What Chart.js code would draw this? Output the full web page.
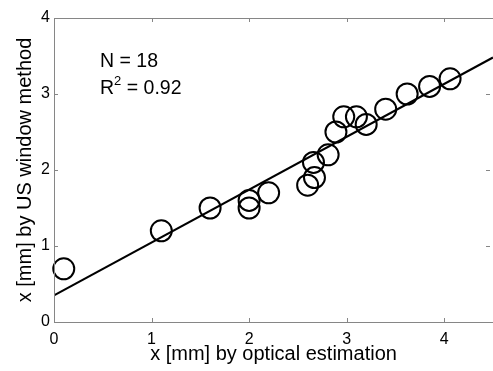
<!DOCTYPE html>
<html>
<head>
<meta charset="utf-8">
<script src="https://cdn.jsdelivr.net/npm/chart.js@4/dist/chart.umd.min.js"></script>
<style>
    html, body { margin: 0; padding: 0; background: #fff; overflow: hidden; }
</style>
</head>
<body>
<canvas id="fig" width="493" height="371"></canvas>
<script>
// measured values (optical vs US window method)
var opticalX = [0.1, 1.1, 1.6, 2.0, 2.0, 2.2, 2.6, 2.67, 2.66, 2.81, 2.89, 2.97, 3.1, 3.2, 3.4, 3.62, 3.85, 4.06];
var usWindowY = [0.7, 1.2, 1.5, 1.6, 1.5, 1.7, 1.8, 1.9, 2.1, 2.2, 2.5, 2.7, 2.7, 2.6, 2.8, 3.0, 3.1, 3.2];

// regression line end points
var fitX = [0, 4.5];
var fitY = [0.35, 3.48];

var xTicks = [0, 1, 2, 3, 4];
var yTicks = [0, 1, 2, 3, 4];

var statsLines = ["N = 18", "0.92"];

var axisGray = "#868686";
var font = "'Liberation Sans', Arial, Helvetica, sans-serif";

var framePlugin = {
    id: "frame",
    afterDraw: function (chart) {
        var c = chart.ctx;
        var a = chart.chartArea;
        var sx = chart.scales.x, sy = chart.scales.y;
        c.save();
        c.strokeStyle = axisGray;
        c.lineWidth = 1;
        c.strokeRect(a.left + 0.5, a.top + 0.5, a.right - a.left, a.bottom - a.top);
        c.beginPath();
        xTicks.forEach(function (v) {
            var px = Math.round(sx.getPixelForValue(v)) + 0.5;
            c.moveTo(px, a.bottom); c.lineTo(px, a.bottom - 4);
            c.moveTo(px, a.top); c.lineTo(px, a.top + 4);
        });
        yTicks.forEach(function (v) {
            var py = Math.round(sy.getPixelForValue(v)) + 0.5;
            c.moveTo(a.left, py); c.lineTo(a.left + 4, py);
            c.moveTo(a.right - 3, py); c.lineTo(a.right - 7, py);
        });
        c.stroke();

        // N and R^2 annotation
        c.fillStyle = "#000";
        c.textBaseline = "alphabetic";
        c.textAlign = "left";
        var tx = a.left + 46;
        c.font = "19.5px " + font;
        c.fillText(statsLines[0], tx, a.top + 49);
        var y2 = a.top + 76;
        c.fillText("R", tx, y2);
        var w = c.measureText("R").width;
        c.font = "13px " + font;
        c.fillText("2", tx + w, y2 - 9);
        var w2 = c.measureText("2").width;
        c.font = "19.5px " + font;
        c.fillText(" = " + statsLines[1], tx + w + w2, y2);
        c.restore();
    }
};

var points = opticalX.map(function (x, i) { return { x: x, y: usWindowY[i] }; });
var fitLine = fitX.map(function (x, i) { return { x: x, y: fitY[i] }; });

new Chart(document.getElementById("fig"), {
    type: "scatter",
    data: {
        datasets: [
            {
                data: fitLine,
                showLine: true,
                borderColor: "#000",
                borderWidth: 2.2,
                pointRadius: 0,
                fill: false
            },
            {
                data: points,
                pointStyle: "circle",
                pointRadius: 10.5,
                pointHoverRadius: 10.5,
                borderColor: "#000",
                borderWidth: 2,
                backgroundColor: "rgba(0,0,0,0)",
                clip: false
            }
        ]
    },
    options: {
        responsive: false,
        animation: false,
        events: [],
        layout: { autoPadding: false, padding: { top: 18, right: 0, left: 0, bottom: 0 } },
        plugins: { legend: { display: false }, tooltip: { enabled: false } },
        scales: {
            x: {
                type: "linear",
                min: 0,
                max: 4.5,
                afterBuildTicks: function (s) { s.ticks = xTicks.map(function (v) { return { value: v }; }); },
                afterFit: function (s) { s.height = 49; s.paddingRight = 0; s.paddingLeft = 0; },
                grid: { display: false, drawTicks: false },
                border: { display: false },
                ticks: { color: "#000", font: { family: font, size: 16 }, padding: 8 },
                title: {
                    display: true,
                    text: "x [mm] by optical estimation",
                    color: "#000",
                    font: { family: font, size: 20 },
                    padding: { top: 0, bottom: 5 }
                }
            },
            y: {
                type: "linear",
                min: 0,
                max: 4,
                afterBuildTicks: function (s) { s.ticks = yTicks.map(function (v) { return { value: v }; }); },
                afterFit: function (s) { s.width = 54; s.paddingTop = 0; s.paddingBottom = 0; },
                grid: { display: false, drawTicks: false },
                border: { display: false },
                ticks: { color: "#000", font: { family: font, size: 16 }, padding: 4 },
                title: {
                    display: true,
                    text: "x [mm] by US window method",
                    color: "#000",
                    font: { family: font, size: 20 },
                    padding: { top: 13, bottom: 0 }
                }
            }
        }
    },
    plugins: [framePlugin]
});
</script>
</body>
</html>
